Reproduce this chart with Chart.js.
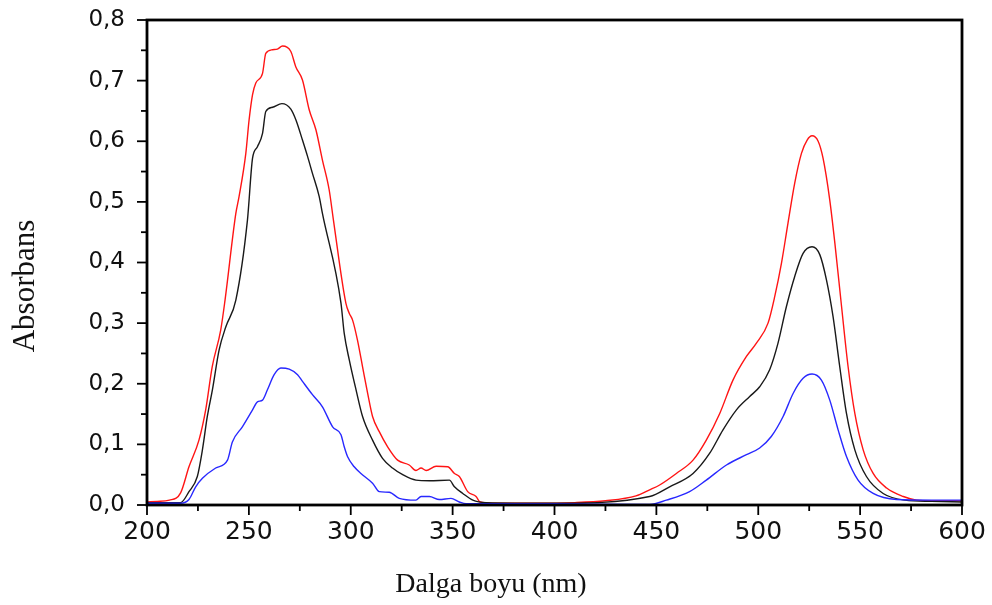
<!DOCTYPE html>
<html>
<head>
<meta charset="utf-8">
<script src="https://cdn.jsdelivr.net/npm/chart.js@4.4.1/dist/chart.umd.min.js"></script>
<style>
    html, body { margin: 0; padding: 0; background: #fff; }
    #wrap { width: 992px; height: 605px; }
</style>
</head>
<body>
<div id="wrap"><canvas id="spectrum"></canvas></div>
<script>
// Wavelengths (nm) and absorbance, one pair of arrays per curve
const redNm = [200, 205, 211, 216.5, 220.6, 225.5, 228.8, 232, 236.2, 238.3, 243.6, 245.2, 248.5, 250.1, 251.8, 253.4, 256.7, 258.3, 261.6, 264, 266.5, 270.6, 273, 276.3, 279.6, 282.9, 286.1, 289.4, 291.5, 297.6, 299.3, 300.9, 303.3, 305.8, 308.3, 310.7, 314, 318.1, 323, 328.7, 332, 334.5, 337, 341.9, 347.6, 350.9, 353.3, 357.4, 361.5, 363.5, 370, 390, 410, 425, 440, 446.7, 451.6, 459.8, 468, 474.5, 481.1, 487.6, 494.2, 499.1, 504.8, 508.1, 511.4, 514.6, 517.9, 521.2, 524, 526.4, 529.4, 531.8, 535.1, 537.6, 540.9, 544.1, 547.4, 551.5, 556.4, 563, 571.2, 577.7, 585, 600];
const redAbs = [0.005, 0.006, 0.008, 0.02, 0.063, 0.107, 0.157, 0.228, 0.289, 0.338, 0.481, 0.509, 0.58, 0.635, 0.677, 0.696, 0.712, 0.745, 0.751, 0.752, 0.757, 0.748, 0.723, 0.701, 0.652, 0.619, 0.569, 0.52, 0.47, 0.333, 0.316, 0.305, 0.272, 0.228, 0.184, 0.146, 0.121, 0.096, 0.074, 0.066, 0.057, 0.061, 0.057, 0.064, 0.063, 0.052, 0.047, 0.022, 0.014, 0.005, 0.003, 0.003, 0.004, 0.007, 0.015, 0.025, 0.033, 0.052, 0.074, 0.107, 0.151, 0.206, 0.245, 0.267, 0.3, 0.344, 0.399, 0.465, 0.531, 0.58, 0.602, 0.609, 0.6, 0.572, 0.503, 0.432, 0.327, 0.228, 0.151, 0.091, 0.052, 0.028, 0.014, 0.008, 0.007, 0.007];

const blackNm = [200, 210, 216.5, 220.6, 224.7, 227.2, 229.6, 232.1, 235.4, 238.7, 243.6, 249.3, 251.8, 254.2, 256.7, 258.3, 261.6, 266.2, 270.6, 273.1, 276.3, 278.8, 281.2, 284.5, 286.1, 295.2, 296.8, 299.3, 302.6, 305.8, 310.7, 315.6, 320.5, 325.5, 332, 338.6, 348.4, 350.9, 355, 359.9, 366.4, 400, 446.7, 456.5, 468, 476.1, 482.7, 489.3, 495.8, 500.7, 505.6, 509.7, 513.8, 517.9, 522, 526.4, 530.2, 533.5, 536.7, 540, 543.3, 547.4, 553.1, 561.3, 572, 585, 600];
const blackAbs = [0.004, 0.004, 0.004, 0.022, 0.047, 0.091, 0.146, 0.19, 0.256, 0.294, 0.338, 0.47, 0.572, 0.591, 0.613, 0.649, 0.656, 0.662, 0.653, 0.635, 0.602, 0.575, 0.547, 0.509, 0.481, 0.333, 0.283, 0.239, 0.19, 0.146, 0.107, 0.077, 0.061, 0.05, 0.041, 0.04, 0.041, 0.03, 0.019, 0.008, 0.004, 0.003, 0.014, 0.03, 0.052, 0.085, 0.124, 0.157, 0.179, 0.195, 0.223, 0.267, 0.327, 0.377, 0.415, 0.426, 0.413, 0.371, 0.311, 0.228, 0.151, 0.091, 0.047, 0.019, 0.008, 0.006, 0.005];

const blueNm = [200, 216.5, 220.6, 223.9, 227.2, 233.7, 239.5, 241.9, 246.8, 251.8, 254.2, 256.7, 259.1, 262.4, 265.7, 269.8, 273.9, 276.3, 281.2, 286.1, 291.1, 295.2, 296.8, 298.4, 301.7, 305, 310.7, 314, 318.9, 323.8, 332, 334.5, 338.6, 343.5, 349.2, 353.3, 356.6, 400, 446.7, 454.9, 466.3, 474.5, 484.4, 494.2, 500.7, 506.4, 512.2, 517.1, 522, 526.4, 531, 535.1, 539.2, 543.3, 549, 556.4, 567.9, 585, 600];
const blueAbs = [0.003, 0.003, 0.009, 0.03, 0.044, 0.061, 0.074, 0.104, 0.129, 0.157, 0.17, 0.173, 0.19, 0.215, 0.226, 0.224, 0.215, 0.204, 0.182, 0.162, 0.129, 0.116, 0.096, 0.08, 0.063, 0.052, 0.036, 0.022, 0.021, 0.011, 0.008, 0.014, 0.014, 0.009, 0.011, 0.005, 0.002, 0.002, 0.001, 0.008, 0.022, 0.041, 0.066, 0.083, 0.094, 0.113, 0.146, 0.184, 0.209, 0.216, 0.206, 0.173, 0.124, 0.08, 0.041, 0.019, 0.009, 0.008, 0.008];

const xTitle = 'Dalga boyu (nm)';
const yTitle = 'Absorbans';

function toPoints(xs, ys) {
    return xs.map((x, i) => ({ x: x, y: ys[i] }));
}

function curve(label, xs, ys, color) {
    return {
        label: label,
        data: toPoints(xs, ys),
        borderColor: color,
        borderWidth: 1.4,
        pointRadius: 0,
        fill: false,
        cubicInterpolationMode: 'monotone'
    };
}

// frame, outward major/minor ticks and the two axis titles
const frameAndTicks = {
    id: 'frameAndTicks',
    afterDraw(chart) {
        const { ctx, chartArea: a, scales } = chart;
        const xs = scales.x, ys = scales.y;
        ctx.save();
        ctx.strokeStyle = '#000';
        ctx.lineWidth = 1.8;
        for (let v = 200; v <= 600; v += 25) {
            const px = xs.getPixelForValue(v);
            const len = (v % 50 === 0) ? 10 : 6;
            ctx.beginPath();
            ctx.moveTo(px, a.bottom);
            ctx.lineTo(px, a.bottom + len);
            ctx.stroke();
        }
        for (let k = 0; k <= 16; k++) {
            const py = ys.getPixelForValue(k * 0.05);
            const len = (k % 2 === 0) ? 10 : 6;
            ctx.beginPath();
            ctx.moveTo(a.left, py);
            ctx.lineTo(a.left - len, py);
            ctx.stroke();
        }
        ctx.lineWidth = 2.8;
        ctx.strokeRect(a.left, a.top, a.right - a.left, a.bottom - a.top);

        ctx.fillStyle = '#111';
        ctx.font = '28px "Liberation Serif", serif';
        ctx.textAlign = 'center';
        ctx.textBaseline = 'alphabetic';
        ctx.fillText(xTitle, 491, 592);

        ctx.translate(34, 286);
        ctx.rotate(-Math.PI / 2);
        ctx.font = '31px "Liberation Serif", serif';
        ctx.fillText(yTitle, 0, 0);
        ctx.restore();
    }
};

new Chart(document.getElementById('spectrum'), {
    type: 'line',
    data: {
        datasets: [
            curve('Blue', blueNm, blueAbs, 'rgb(40, 40, 255)'),
            curve('Black', blackNm, blackAbs, 'rgb(25, 25, 25)'),
            curve('Red', redNm, redAbs, 'rgb(255, 20, 20)')
        ]
    },
    options: {
        responsive: true,
        maintainAspectRatio: false,
        animation: false,
        layout: { padding: { top: 20, right: 30, left: 0, bottom: 0 } },
        plugins: {
            legend: { display: false },
            tooltip: { enabled: false }
        },
        scales: {
            x: {
                type: 'linear',
                min: 200,
                max: 600,
                grid: { display: false, drawTicks: false },
                border: { display: false },
                ticks: {
                    stepSize: 50,
                    padding: 12,
                    color: '#111',
                    font: { family: '"DejaVu Sans", Verdana, sans-serif', size: 25 },
                    maxRotation: 0
                },
                afterFit: s => {
                    s.height = 100;
                    s.paddingLeft = 0;
                    s.paddingRight = 0;
                }
            },
            y: {
                min: 0,
                max: 0.8,
                grid: { display: false, drawTicks: false },
                border: { display: false },
                ticks: {
                    stepSize: 0.1,
                    padding: 22,
                    color: '#111',
                    font: { family: '"DejaVu Sans", Verdana, sans-serif', size: 23 },
                    callback: v => v.toFixed(1).replace('.', ',')
                },
                afterFit: s => {
                    s.width = 147;
                    s.paddingTop = 0;
                    s.paddingBottom = 0;
                }
            }
        }
    },
    plugins: [frameAndTicks]
});
</script>
</body>
</html>
